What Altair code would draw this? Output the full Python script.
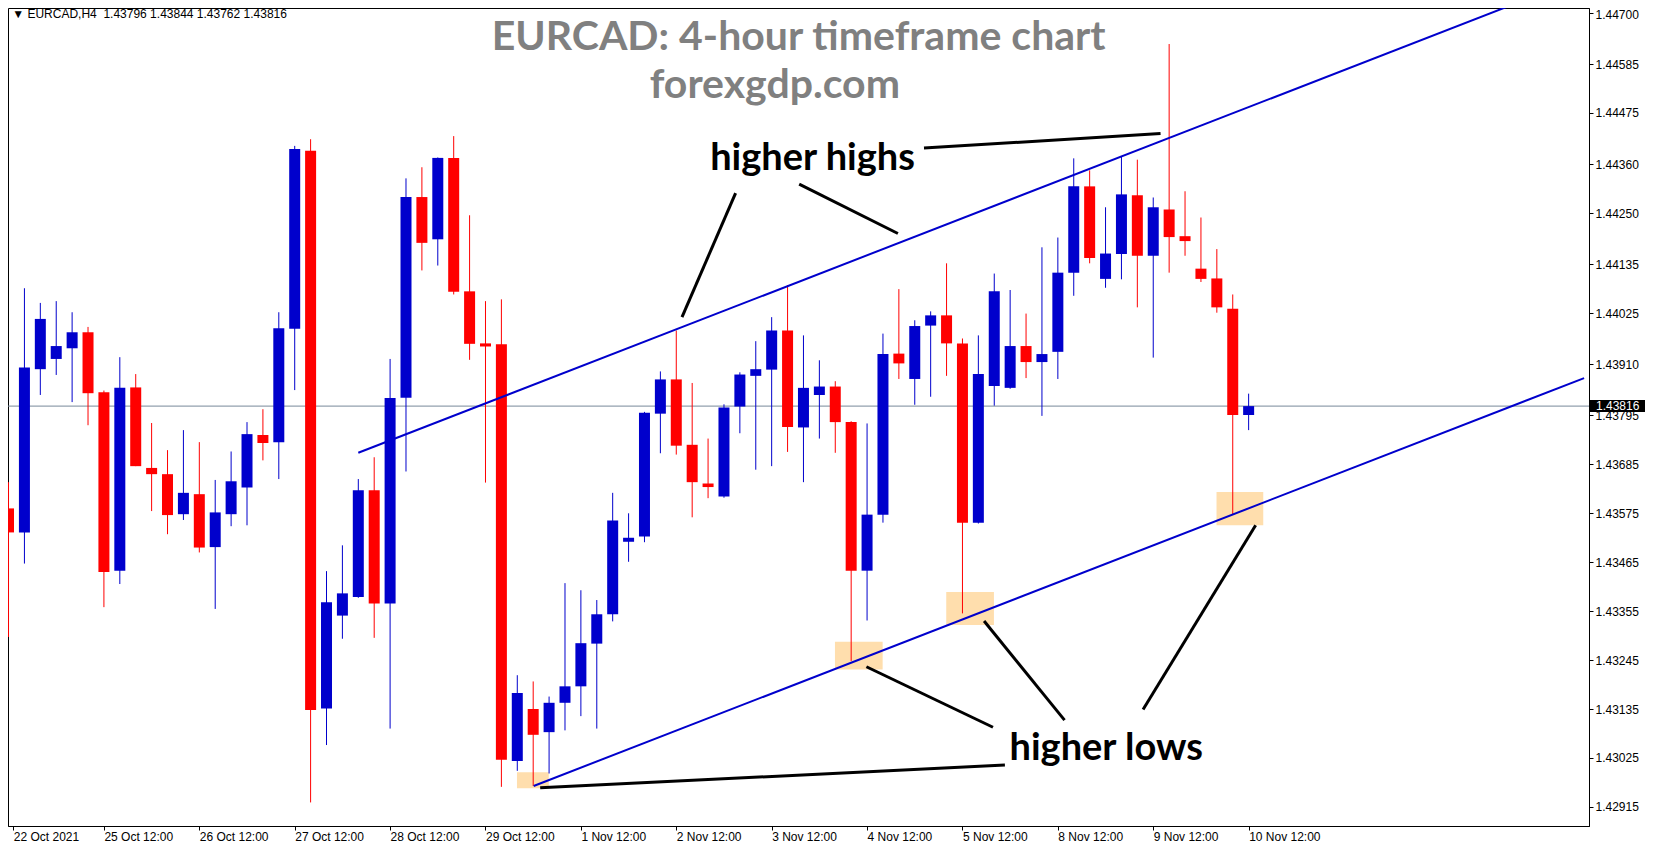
import json
import altair as alt
import pandas as pd

# ---------------- data ----------------
tick_labels = ["22 Oct 2021", "25 Oct 12:00", "26 Oct 12:00", "27 Oct 12:00", "28 Oct 12:00",
               "29 Oct 12:00", "1 Nov 12:00", "2 Nov 12:00", "3 Nov 12:00", "4 Nov 12:00",
               "5 Nov 12:00", "8 Nov 12:00", "9 Nov 12:00", "10 Nov 12:00"]
price_ticks = [1.44700, 1.44585, 1.44475, 1.44360, 1.44250, 1.44135, 1.44025, 1.43910, 1.43795,
               1.43685, 1.43575, 1.43465, 1.43355, 1.43245, 1.43135, 1.43025, 1.42915]

opens = [1.43586, 1.43532, 1.43899, 1.43922, 1.43946, 1.43982, 1.43847, 1.43446, 1.43858, 1.43677,
         1.43663, 1.43573, 1.43618, 1.43499, 1.43573, 1.43633, 1.43751, 1.43735, 1.43990, 1.44390,
         1.43136, 1.43345, 1.43387, 1.43627, 1.43372, 1.43835, 1.44286, 1.44191, 1.44374, 1.44074,
         1.43957, 1.43955, 1.43018, 1.43135, 1.43083, 1.43149, 1.43186, 1.43282, 1.43348, 1.43511,
         1.43523, 1.43799, 1.43876, 1.43729, 1.43642, 1.43613, 1.43815, 1.43884, 1.43898, 1.43986,
         1.43768, 1.43841, 1.43860, 1.43780, 1.43446, 1.43572, 1.43934, 1.43877, 1.43997, 1.44020,
         1.43957, 1.43554, 1.43861, 1.43857, 1.43951, 1.43915, 1.43938, 1.44116, 1.44310, 1.44102,
         1.44158, 1.44290, 1.44154, 1.44258, 1.44198, 1.44125, 1.44103, 1.44035, 1.43796]
highs = [1.43645, 1.44081, 1.44048, 1.44052, 1.44027, 1.43994, 1.43851, 1.43926, 1.43888, 1.43778,
         1.43717, 1.43762, 1.43735, 1.43650, 1.43714, 1.43780, 1.43809, 1.44027, 1.44401, 1.44416,
         1.43445, 1.43503, 1.43652, 1.43701, 1.43922, 1.44328, 1.44353, 1.44375, 1.44423, 1.44245,
         1.44052, 1.44056, 1.43211, 1.43197, 1.43163, 1.43418, 1.43402, 1.43380, 1.43621, 1.43575,
         1.43803, 1.43894, 1.43986, 1.43868, 1.43743, 1.43820, 1.43892, 1.43962, 1.44016, 1.44088,
         1.43975, 1.43919, 1.43872, 1.43782, 1.43777, 1.43979, 1.44079, 1.44009, 1.44029, 1.44137,
         1.43968, 1.43975, 1.44114, 1.44077, 1.44024, 1.44173, 1.44195, 1.44373, 1.44346, 1.44263,
         1.44378, 1.44370, 1.44285, 1.44630, 1.44299, 1.44240, 1.44169, 1.44067, 1.43844]
lows = [1.43297, 1.43462, 1.43841, 1.43886, 1.43825, 1.43773, 1.43364, 1.43416, 1.43681, 1.43580,
        1.43528, 1.43560, 1.43487, 1.43360, 1.43546, 1.43548, 1.43694, 1.43652, 1.43852, 1.42925,
        1.43054, 1.43293, 1.43385, 1.43295, 1.43091, 1.43669, 1.44121, 1.44132, 1.44067, 1.43920,
        1.43644, 1.42960, 1.42996, 1.42962, 1.42990, 1.43087, 1.43119, 1.43091, 1.43332, 1.43466,
        1.43510, 1.43710, 1.43707, 1.43566, 1.43609, 1.43610, 1.43755, 1.43673, 1.43681, 1.43713,
        1.43645, 1.43743, 1.43711, 1.43243, 1.43334, 1.43554, 1.43877, 1.43819, 1.43837, 1.43884,
        1.43350, 1.43552, 1.43817, 1.43855, 1.43879, 1.43794, 1.43877, 1.44064, 1.44137, 1.44082,
        1.44101, 1.44038, 1.43925, 1.44116, 1.44154, 1.44095, 1.44026, 1.43573, 1.43762]
closes = [1.43532, 1.43903, 1.44012, 1.43951, 1.43982, 1.43845, 1.43443, 1.43857, 1.43681, 1.43663,
          1.43571, 1.43621, 1.43498, 1.43577, 1.43647, 1.43753, 1.43733, 1.43991, 1.44394, 1.43133,
          1.43375, 1.43395, 1.43627, 1.43372, 1.43834, 1.44286, 1.44183, 1.44374, 1.44073, 1.43956,
          1.43950, 1.43021, 1.43171, 1.43077, 1.43149, 1.43186, 1.43283, 1.43348, 1.43559, 1.43520,
          1.43801, 1.43876, 1.43727, 1.43645, 1.43634, 1.43813, 1.43887, 1.43899, 1.43986, 1.43769,
          1.43857, 1.43860, 1.43780, 1.43446, 1.43572, 1.43933, 1.43912, 1.43996, 1.44020, 1.43957,
          1.43554, 1.43888, 1.44074, 1.43951, 1.43915, 1.43933, 1.44116, 1.44310, 1.44149, 1.44159,
          1.44292, 1.44154, 1.44263, 1.44196, 1.44187, 1.44102, 1.44038, 1.43796, 1.43816]

# channel trend lines (bar index, price)
trend_bar_start = [22.0, 33.03]
trend_price_start = [1.43711, 1.42962]
trend_bar_end = [99.1, 99.1]
trend_price_end = [1.44781, 1.43879]

# highlighted lows
box_bar_start = [31.98, 51.98, 58.98, 75.98]
box_bar_end = [33.98, 54.98, 61.98, 78.92]
box_price_low = [1.42957, 1.43224, 1.43324, 1.43548]
box_price_high = [1.42993, 1.43286, 1.43398, 1.43623]

# black pointer lines
arrow_bar_start = [57.58, 45.73, 49.73, 33.44, 53.96, 61.36, 71.36]
arrow_price_start = [1.44396, 1.44295, 1.44315, 1.42958, 1.43230, 1.43333, 1.43134]
arrow_bar_end = [72.46, 42.36, 55.94, 62.67, 61.92, 66.42, 78.44]
arrow_price_end = [1.44429, 1.44016, 1.44204, 1.43009, 1.43094, 1.43110, 1.43548]

title_lines = ["EURCAD: 4-hour timeframe chart", "forexgdp.com"]
title_bar = [49.70, 48.20]
title_price = [1.44616, 1.44508]
label_texts = ["higher highs", "higher lows"]
label_bar = [50.57, 69.04]
label_price = [1.44346, 1.43020]
header_text = "\u25BC EURCAD,H4\u00a0 1.43796 1.43844 1.43762 1.43816"
header_bar = [0.23]
header_price = [1.44688]

# ---------------- frames ----------------
n = len(opens)
candles = pd.DataFrame({"bar": list(range(n)), "open": opens, "high": highs,
                        "low": lows, "close": closes})
candles["dir"] = ["up" if c >= o else "down" for o, c in zip(opens, closes)]

trends = pd.DataFrame({"b1": trend_bar_start, "p1": trend_price_start,
                       "b2": trend_bar_end, "p2": trend_price_end})
boxes = pd.DataFrame({"b1": box_bar_start, "b2": box_bar_end,
                      "p1": box_price_low, "p2": box_price_high})
arrows = pd.DataFrame({"b1": arrow_bar_start, "p1": arrow_price_start,
                       "b2": arrow_bar_end, "p2": arrow_price_end})
titles = pd.DataFrame({"t": title_lines, "b": title_bar, "p": title_price})
labels = pd.DataFrame({"t": label_texts, "b": label_bar, "p": label_price})
header = pd.DataFrame({"t": [header_text], "b": header_bar, "p": header_price})
last = pd.DataFrame({"p": [closes[-1]], "t": [f"{closes[-1]:.5f}"]})

# ---------------- scales / axes ----------------
W, H = 1581, 818
PX_PER_BAR = 16.0
X_MIN = 0.28125
X_MAX = X_MIN + W / PX_PER_BAR
Y_MIN, Y_MAX = 1.42872, 1.44711

x_scale = alt.Scale(domain=[X_MIN, X_MAX], nice=False, zero=False)
y_scale = alt.Scale(domain=[Y_MIN, Y_MAX], nice=False, zero=False)

x_ticks = [max(k * 6, X_MIN + 0.02) for k in range(len(tick_labels))]
x_axis = alt.Axis(values=x_ticks, title=None, grid=False, orient="bottom",
                  labelExpr=json.dumps(tick_labels) + "[round(datum.value/6)]",
                  tickSize=4, tickColor="black", domainColor="black", labelColor="black",
                  labelAlign="left", labelPadding=1, labelFont="Liberation Sans",
                  labelFontSize=12, labelOverlap=False, labelFlush=False)
y_axis = alt.Axis(values=price_ticks, title=None, grid=False, orient="right", format=".5f",
                  tickSize=4, tickColor="black", domainColor="black", labelColor="black",
                  labelPadding=2, labelFont="Liberation Sans", labelFontSize=12,
                  labelOverlap=False, labelFlush=False,
                  labelOffset={"condition": {"test": "datum.value > 1.4469", "value": 2},
                               "value": 0})


def X(f):
    return alt.X(f, type="quantitative", scale=x_scale, axis=x_axis)


def Y(f):
    return alt.Y(f, type="quantitative", scale=y_scale, axis=y_axis)


color = alt.Color("dir:N", scale=alt.Scale(domain=["up", "down"], range=["#0000CC", "#FF0000"]),
                  legend=None)

box_layer = alt.Chart(boxes).mark_rect(color="#FFDEAD", clip=True).encode(
    x=X("b1"), x2="b2", y=Y("p1"), y2="p2")
price_line = alt.Chart(last).mark_rule(color="#778899", strokeWidth=1).encode(y=Y("p"))
wicks = alt.Chart(candles).mark_rule(strokeWidth=1, clip=True).encode(
    x=X("bar"), y=Y("low"), y2="high", color=color)
bodies = alt.Chart(candles).mark_bar(size=11, clip=True).encode(
    x=X("bar"), y=Y("open"), y2="close", color=color)
trend_layer = alt.Chart(trends).mark_rule(color="#0000CC", strokeWidth=2, clip=True).encode(
    x=X("b1"), x2="b2", y=Y("p1"), y2="p2")
arrow_layer = alt.Chart(arrows).mark_rule(color="black", strokeWidth=3, clip=True).encode(
    x=X("b1"), x2="b2", y=Y("p1"), y2="p2")
title_layer = alt.Chart(titles).mark_text(font="Lato", fontWeight="bold", fontSize=41,
                                          color="#808080", align="center",
                                          baseline="alphabetic").encode(
    x=X("b"), y=Y("p"), text="t:N")
label_layer = alt.Chart(labels).mark_text(font="Lato", fontWeight="bold", fontSize=38,
                                          color="black", align="center",
                                          baseline="alphabetic").encode(
    x=X("b"), y=Y("p"), text="t:N")
header_layer = alt.Chart(header).mark_text(font="Liberation Sans", fontSize=12, color="black",
                                           align="left", baseline="alphabetic").encode(
    x=X("b"), y=Y("p"), text="t:N")
tag_bg = alt.Chart(last).mark_rule(color="black", strokeWidth=12, strokeCap="butt").encode(
    x=alt.value(W + 1), x2=alt.value(W + 56), y=Y("p"))
tag_txt = alt.Chart(last).mark_text(color="white", align="left", baseline="middle",
                                    font="Liberation Sans", fontSize=12).encode(
    x=alt.value(W + 7), y=Y("p"), text="t:N")

chart = alt.layer(box_layer, price_line, wicks, bodies, trend_layer, arrow_layer,
                  title_layer, label_layer, header_layer, tag_bg, tag_txt).properties(
    width=W, height=H,
    padding={"left": 0, "top": 0, "right": 56, "bottom": 16},
    autosize=alt.AutoSizeParams(type="none"),
    background="white",
).configure_view(stroke="black", strokeWidth=1)

chart.save("out.html", embed_options={"renderer": "svg", "actions": False})
